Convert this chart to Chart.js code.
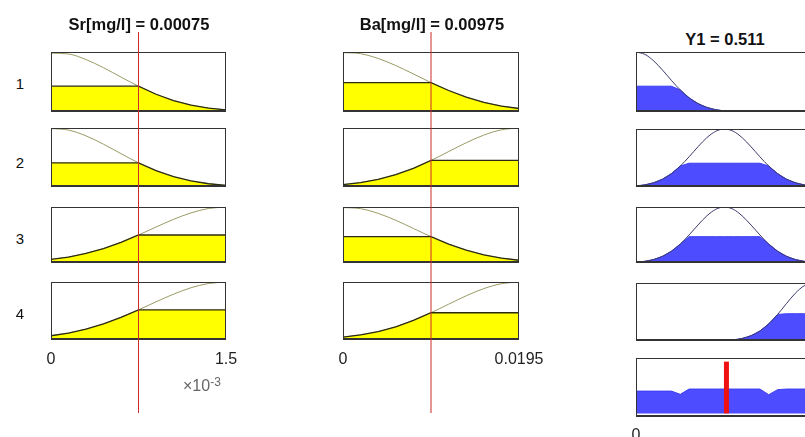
<!DOCTYPE html>
<html><head><meta charset="utf-8">
<script src="https://cdn.jsdelivr.net/npm/chart.js@4/dist/chart.umd.min.js"></script>
<style>
html,body{margin:0;padding:0;background:#fff;}
#wrap{position:relative;width:805px;height:437px;overflow:hidden;background:#fff;font-family:'Liberation Sans',Arial,Helvetica,sans-serif;color:#111;}
canvas{position:absolute;}
.t{position:absolute;white-space:nowrap;transform:translate(-50%,-50%);}
.ttl{font-weight:bold;font-size:16.5px;}
.rl{font-size:15px;}
.exp{position:absolute;white-space:nowrap;font-size:16px;color:#666;line-height:1;}
.exp sup{font-size:12px;vertical-align:0.45em;line-height:1;}
</style></head><body><div id="wrap"></div>
<script>
// ---------- data ----------
const titles = ['Sr[mg/l] = 0.00075', 'Ba[mg/l] = 0.00975', 'Y1 = 0.511'];
const ruleLabels = ['1', '2', '3', '4'];
const srValue = 0.00075, baValue = 0.00975, y1Value = 0.511;
const srRange = [0, 0.0015], baRange = [0, 0.0195], yRange = [0, 1];
const srTicks = [0, 0.0015], srTickLabels = ['0', '1.5'];
const baTicks = [0, 0.0195], baTickLabels = ['0', '0.0195'];
const yTicks = [0, 1], yTickLabels = ['0', '1'];

const srX = [0, 0.00015, 0.0003, 0.00045, 0.0006, 0.00075, 0.0009, 0.00105, 0.0012, 0.00135, 0.0015];
const baX = [0, 0.00195, 0.0039, 0.00585, 0.0078, 0.00975, 0.0117, 0.01365, 0.0156, 0.01755, 0.0195];
const yX  = [0,0.05,0.1,0.15,0.2,0.25,0.3,0.35,0.4,0.45,0.5,0.55,0.6,0.65,0.7,0.75,0.8,0.85,0.9,0.95,1];

const srMF1 = [0.98, 0.967, 0.874, 0.738, 0.582, 0.43, 0.296, 0.191, 0.115, 0.065, 0.034];
const srMF2 = [0.99, 0.965, 0.867, 0.725, 0.565, 0.41, 0.277, 0.174, 0.102, 0.055, 0.028];
const srMF3 = [0.063, 0.106, 0.170, 0.257, 0.369, 0.50, 0.642, 0.779, 0.895, 0.973, 1.0];
const srMF4 = [0.073, 0.120, 0.187, 0.278, 0.390, 0.52, 0.658, 0.790, 0.901, 0.974, 1.0];
const baMF1 = [0.99, 0.972, 0.892, 0.774, 0.634, 0.49, 0.358, 0.247, 0.161, 0.099, 0.058];
const baMF2 = [0.041, 0.075, 0.130, 0.210, 0.317, 0.45, 0.600, 0.750, 0.880, 0.969, 1.0];
const baMF3 = [0.99, 0.970, 0.886, 0.762, 0.617, 0.47, 0.337, 0.228, 0.145, 0.087, 0.049];
const baMF4 = [0.049, 0.087, 0.145, 0.228, 0.337, 0.47, 0.617, 0.762, 0.886, 0.970, 1.0];
const srLevels = [0.43, 0.41, 0.50, 0.52];
const baLevels = [0.49, 0.45, 0.47, 0.47];

const outMF1 = [1, 0.961, 0.852, 0.698, 0.527, 0.368, 0.237, 0.141, 0.077, 0.039, 0.018, 0.008, 0.003, 0.001, 0, 0, 0, 0, 0, 0, 0];
const outMF2 = [0.017,0.037,0.074,0.136,0.231,0.361,0.521,0.693,0.850,0.960,1,0.960,0.850,0.693,0.521,0.361,0.231,0.136,0.074,0.037,0.017];
const outMF3 = [0.013,0.030,0.063,0.120,0.211,0.339,0.501,0.678,0.841,0.958,1,0.958,0.841,0.678,0.501,0.339,0.211,0.120,0.063,0.030,0.013];
const outMF4 = [0,0,0,0,0,0,0,0,0.001,0.003,0.008,0.019,0.044,0.092,0.173,0.296,0.458,0.645,0.823,0.952,1];
const ruleStrength = [0.43, 0.41, 0.47, 0.47];

// ---------- layout ----------
const wrap = document.getElementById('wrap');
const colLeft = [51, 343, 636], colW = [175, 176, 177];
const rowTop = [52, 128, 207, 282], rowH = [60, 59, 56, 58];
const outTop = [52, 129, 207, 283, 358], outH = [60, 58, 56, 58, 59];
const FONT = "'Liberation Sans', Arial, Helvetica, sans-serif";

const boxPlugin = {id:'box', afterDraw(ch){
  const a = ch.chartArea, ctx = ch.ctx;
  ctx.save(); ctx.strokeStyle = '#333'; ctx.lineWidth = 1;
  ctx.strokeRect(a.left+0.5, a.top+0.5, a.right-a.left-1, a.bottom-a.top-1);
  ctx.lineWidth = 2; ctx.beginPath(); ctx.moveTo(a.left, a.bottom-1); ctx.lineTo(a.right, a.bottom-1); ctx.stroke();
  ctx.restore();
}};

const pts = (xs, ys) => xs.map((x, i) => ({x, y: ys[i]}));
const clip = (ys, lvl) => ys.map(v => Math.min(v, lvl));

function panel(o){
  const hasT = !!o.ticks;
  const padL = hasT ? 45 : 0, padR = hasT ? 45 : 0, axisH = hasT ? o.axisH : 0;
  const c = document.createElement('canvas');
  c.width = o.w + padL + padR; c.height = o.h + axisH;
  c.style.left = (o.left - padL) + 'px'; c.style.top = o.top + 'px';
  wrap.appendChild(c);
  const yr = o.yRange || [0, 1];
  new Chart(c, {type:'line', data:{datasets:o.datasets}, options:{
    responsive:false, animation:false, events:[],
    layout:{padding:{left:padL, right:padR, top:0, bottom:0}},
    plugins:{legend:{display:false}, tooltip:{enabled:false}},
    elements:{point:{radius:0}, line:{tension:0}},
    scales:{
      x:{type:'linear', min:o.range[0], max:o.range[1], display:hasT,
         grid:{display:false, drawTicks:false}, border:{display:false},
         ticks:{autoSkip:false, maxRotation:0, padding:o.tickPad||8, color:'#222', font:{family:FONT, size:16},
                callback:(v)=>{const i = hasT ? o.ticks.indexOf(v) : -1; return i>=0 ? o.tickLabels[i] : '';}},
         afterBuildTicks:(s)=>{ if(hasT) s.ticks = o.ticks.map(v=>({value:v})); },
         afterFit:(s)=>{ if(hasT) s.height = axisH; }},
      y:{min:yr[0], max:yr[1], display:false}
    }}, plugins:[boxPlugin]});
}

function inputPanel(col, r, xs, mf, lvl, range, ticks, tickLabels){
  panel({left:colLeft[col], top:rowTop[r], w:colW[col], h:rowH[r], range,
    ticks: r===3 ? ticks : null, tickLabels, axisH:30, tickPad:10,
    datasets:[
      {data:pts(xs, clip(mf, lvl)), fill:'origin', backgroundColor:'#ffff00', borderColor:'#2b2b14', borderWidth:1.3},
      {data:pts(xs, mf), fill:false, borderColor:'#9a9a66', borderWidth:1, cubicInterpolationMode:'monotone'}
    ]});
}

const srMFs = [srMF1, srMF2, srMF3, srMF4];
const baMFs = [baMF1, baMF2, baMF3, baMF4];
const outMFs = [outMF1, outMF2, outMF3, outMF4];
for (let r = 0; r < 4; r++){
  inputPanel(0, r, srX, srMFs[r], srLevels[r], srRange, srTicks, srTickLabels);
  inputPanel(1, r, baX, baMFs[r], baLevels[r], baRange, baTicks, baTickLabels);
  panel({left:colLeft[2], top:outTop[r], w:colW[2], h:outH[r], range:yRange,
    datasets:[
      {data:pts(yX, outMFs[r]), fill:false, borderColor:'#3a3a6e', borderWidth:1, cubicInterpolationMode:'monotone'},
      {data:pts(yX, clip(outMFs[r], ruleStrength[r])), fill:'origin', backgroundColor:'#4d4dff', borderColor:'#3d3df0', borderWidth:1}
    ]});
}
// aggregated output
const agg = yX.map((x, i) => Math.max(...outMFs.map((m, r) => Math.min(m[i], ruleStrength[r]))));
panel({left:colLeft[2], top:outTop[4], w:colW[2], h:outH[4], range:yRange, yRange:[-0.07, 1.07],
  ticks:yTicks, tickLabels:yTickLabels, axisH:30, tickPad:9,
  datasets:[
    {data:[{x:y1Value, y:0}, {x:y1Value, y:1}], fill:false, borderColor:'#ee1111', borderWidth:5},
    {data:pts(yX, agg), fill:'origin', backgroundColor:'#4d4dff', borderColor:'#3d3df0', borderWidth:1}
  ]});

// red input-value lines
function redLine(col, val, range){
  const c = document.createElement('canvas');
  c.width = colW[col]; c.height = 381;
  c.style.left = colLeft[col] + 'px'; c.style.top = '32px';
  wrap.appendChild(c);
  new Chart(c, {type:'line', data:{datasets:[{data:[{x:val, y:0}, {x:val, y:1}], borderColor:'#cc2a2a', borderWidth:1, pointRadius:0}]},
    options:{responsive:false, animation:false, events:[], layout:{padding:0},
      plugins:{legend:{display:false}, tooltip:{enabled:false}},
      scales:{x:{type:'linear', min:range[0], max:range[1], display:false}, y:{min:0, max:1, display:false}}}});
}
redLine(0, srValue, srRange);
redLine(1, baValue, baRange);

// text
function txt(s, x, y, cls){ const d = document.createElement('div'); d.className = 't ' + cls; d.textContent = s; d.style.left = x + 'px'; d.style.top = y + 'px'; wrap.appendChild(d); }
txt(titles[0], 139, 24, 'ttl');
txt(titles[1], 432, 24, 'ttl');
txt(titles[2], 725, 39, 'ttl');
const labelY = [83, 162, 238, 313];
ruleLabels.forEach((s, i) => txt(s, 20, labelY[i], 'rl'));
const e = document.createElement('div'); e.className = 'exp'; e.innerHTML = '&times;10<sup>-3</sup>';
e.style.left = '183px'; e.style.top = '376px'; wrap.appendChild(e);
</script></body></html>
